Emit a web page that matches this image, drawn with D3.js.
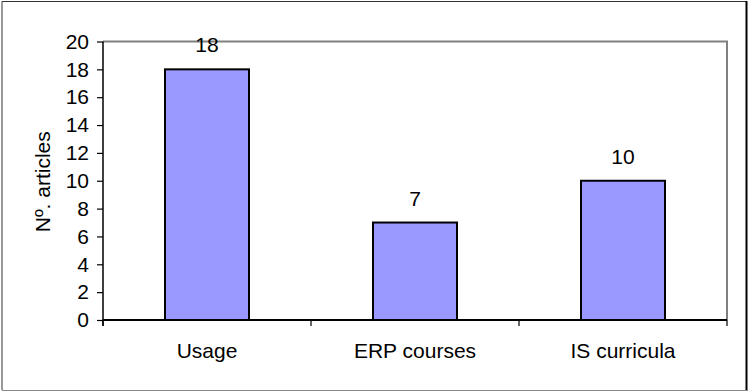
<!DOCTYPE html>
<html>
<head>
<meta charset="utf-8">
<script src="https://cdn.jsdelivr.net/npm/d3@7"></script>
<style>
  html, body { margin: 0; padding: 0; background: #fff; }
  svg { display: block; }
  text { font-family: "Liberation Sans", Arial, sans-serif; fill: #000; }
</style>
</head>
<body>
<svg id="chart" width="749" height="391"></svg>
<script>
// Number of articles per topic
const categories = ["Usage", "ERP courses", "IS curricula"];
const articleCounts = [18, 7, 10];
const yTicks = [0, 2, 4, 6, 8, 10, 12, 14, 16, 18, 20];
const yTitle = "Nº. articles";

const W = 749, H = 391;
const plot = { left: 103, right: 727, top: 41.5, bottom: 320 };
const fontSize = 21;

const svg = d3.select("#chart");

// Outer frame
svg.append("line").attr("x1", 2).attr("x2", 2).attr("y1", 1.5).attr("y2", 390)
  .attr("stroke", "#333").attr("stroke-width", 1);
svg.append("line").attr("x1", 2).attr("x2", 747).attr("y1", 1.5).attr("y2", 1.5)
  .attr("stroke", "#333").attr("stroke-width", 1);
svg.append("line").attr("x1", 746.5).attr("x2", 746.5).attr("y1", 1).attr("y2", 391)
  .attr("stroke", "#000").attr("stroke-width", 2);
svg.append("line").attr("x1", 2).attr("x2", 747).attr("y1", 390.5).attr("y2", 390.5)
  .attr("stroke", "#888").attr("stroke-width", 1);

const x = d3.scaleBand()
  .domain(categories)
  .range([plot.left, plot.right])
  .paddingInner(0)
  .paddingOuter(0);

const y = d3.scaleLinear()
  .domain([0, 20])
  .range([plot.bottom, plot.top]);

// Plot area border: top and right in grey
svg.append("path")
  .attr("d", `M${plot.left},${plot.top}H${plot.right}V${plot.bottom}`)
  .attr("fill", "none")
  .attr("stroke", "#808080")
  .attr("stroke-width", 2);

// Bars
const barRatio = 84 / 208;
svg.append("g").selectAll("rect")
  .data(categories)
  .join("rect")
  .attr("x", (d) => x(d) + x.bandwidth() * (1 - barRatio) / 2)
  .attr("width", x.bandwidth() * barRatio)
  .attr("y", (d, i) => y(articleCounts[i]))
  .attr("height", (d, i) => y(0) - y(articleCounts[i]))
  .attr("fill", "#9999FF")
  .attr("stroke", "#000")
  .attr("stroke-width", 2);

// Value labels
svg.append("g").selectAll("text")
  .data(categories)
  .join("text")
  .attr("x", (d) => x(d) + x.bandwidth() / 2)
  .attr("y", (d, i) => y(articleCounts[i]) - 17)
  .attr("text-anchor", "middle")
  .attr("font-size", fontSize)
  .text((d, i) => articleCounts[i]);

// Y axis
const yAxis = svg.append("g")
  .attr("transform", `translate(${plot.left},0)`)
  .call(d3.axisLeft(y).tickValues(yTicks).tickSize(6).tickPadding(8));
yAxis.select(".domain").attr("stroke", "#000").attr("stroke-width", 1.5)
  .attr("d", `M0,${plot.top}V${plot.bottom + 6}`);
yAxis.selectAll(".tick line").attr("stroke", "#000").attr("stroke-width", 1.2);
yAxis.selectAll(".tick text")
  .attr("font-size", fontSize)
  .attr("font-family", "'Liberation Sans', Arial, sans-serif")
  .attr("fill", "#000");

// X axis with ticks on category boundaries
const xAxis = svg.append("g")
  .attr("transform", `translate(0,${plot.bottom})`);
xAxis.append("line")
  .attr("x1", plot.left).attr("x2", plot.right)
  .attr("stroke", "#000").attr("stroke-width", 2);
const boundaries = categories.map((d) => x(d)).concat([x(categories[categories.length - 1]) + x.bandwidth()]);
xAxis.selectAll("line.tick")
  .data(boundaries)
  .join("line")
  .attr("class", "tick")
  .attr("x1", (d) => d).attr("x2", (d) => d)
  .attr("y1", 0).attr("y2", 6)
  .attr("stroke", "#000").attr("stroke-width", 1.2);
xAxis.selectAll("text")
  .data(categories)
  .join("text")
  .attr("x", (d) => x(d) + x.bandwidth() / 2)
  .attr("y", 38)
  .attr("text-anchor", "middle")
  .attr("font-size", fontSize)
  .text((d) => d);

// Y axis title
svg.append("text")
  .attr("transform", `translate(50,${(plot.top + plot.bottom) / 2 + 1}) rotate(-90)`)
  .attr("text-anchor", "middle")
  .attr("font-size", fontSize)
  .text(yTitle);
</script>
</body>
</html>
